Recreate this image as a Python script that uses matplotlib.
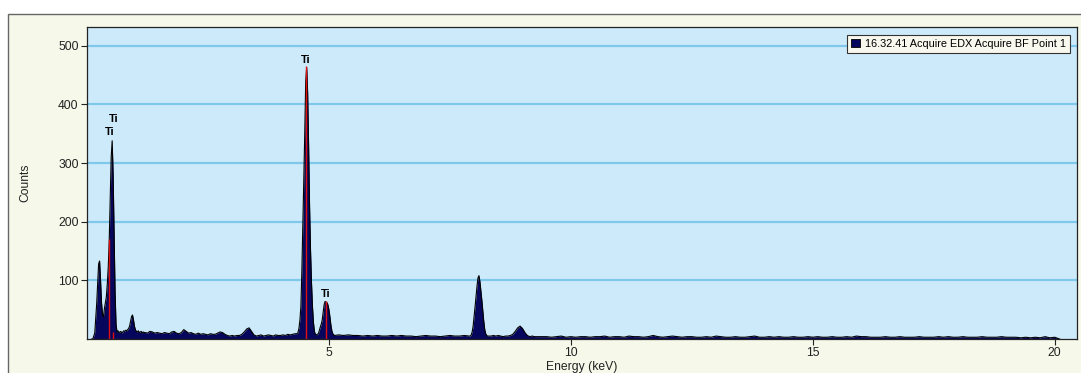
import numpy as np
import matplotlib.pyplot as plt
from matplotlib.patches import Rectangle

# ------------------------------------------------------------
# EDX spectrum (counts per channel)
# each segment: start energy (keV), channel step (keV), counts
# ------------------------------------------------------------
seg_low_start, seg_low_step = 0.10, 0.02
seg_low_counts = [
    0, 0, 5, 10, 35, 60, 95, 128, 133, 100,
    62, 42, 38, 52, 62, 72, 95, 124, 170, 240,
    310, 338, 280, 180, 80, 25, 12, 14, 11, 12,
    13, 10, 12, 14, 13, 15, 14, 16, 18, 22,
    30, 38, 41, 33, 22, 16, 13, 12, 14, 11,
    12, 13, 10, 12, 11,
]

seg_bg_start, seg_bg_step = 1.20, 0.05
seg_bg_counts = [
    11, 10, 13, 12, 10, 11, 10, 9, 11, 10,
    9, 12, 13, 10, 9, 11, 16, 13, 10, 11,
    9, 8, 10, 8, 9, 8, 7, 9, 8, 8,
    10, 12, 11, 8, 6, 5, 6, 5, 6, 6,
    8, 12, 17, 19, 13, 7, 5, 6, 7, 5,
    6, 7, 6, 5, 7, 6, 6, 7, 6, 8,
    7, 8, 9,
]

seg_tik_start, seg_tik_step = 4.34, 0.02
seg_tik_counts = [
    9, 11, 18, 32, 55, 115, 190, 270, 350, 440,
    463, 420, 330, 225, 150, 95, 55, 28, 13, 8,
    7, 8, 9, 14, 20, 25, 32, 45, 58, 64,
    63, 62, 58, 50, 38, 24, 14, 9, 7, 6,
]

seg_mid_start, seg_mid_step = 5.20, 0.10
seg_mid_counts = [
    7, 6, 7, 6, 6, 5, 6, 5, 6, 5,
    5, 6, 5, 6, 5, 5, 4, 5, 6, 5,
    5, 4, 5, 6, 5, 5, 6,
]

seg_cuka_start, seg_cuka_step = 7.90, 0.02
seg_cuka_counts = [
    5, 5, 7, 12, 22, 38, 55, 72, 90, 104,
    108, 98, 82, 66, 48, 30, 16, 9, 6, 5,
    5,
]

seg_cukb_start, seg_cukb_step = 8.35, 0.05
seg_cukb_counts = [
    5, 6, 5, 6, 5, 4, 5, 5, 6, 8,
    13, 19, 22, 18, 11, 6, 4, 5, 4, 4,
]

seg_high_start, seg_high_step = 9.40, 0.10
seg_high_counts = [
    4, 4, 3, 4, 5, 3, 4, 3, 4, 4,
    3, 4, 4, 5, 3, 4, 4, 3, 5, 4,
    4, 3, 4, 6, 4, 3, 4, 5, 4, 3,
    4, 4, 3, 3, 4, 3, 5, 4, 3, 3,
    4, 3, 3, 4, 5, 3, 3, 4, 3, 4,
    3, 3, 4, 3, 3, 4, 3, 4, 3, 3,
    4, 3, 3, 4, 3, 5, 4, 4, 3, 3,
    3, 4, 3, 3, 4, 3, 3, 3, 4, 3,
    3, 3, 4, 3, 4, 3, 3, 4, 3, 3,
    3, 4, 3, 3, 3, 4, 3, 3, 3, 2,
    3, 2, 3, 2, 4, 2, 3, 0,
]

# element marker lines (KLM) and their labels
line_labels = ["Ti", "Ti", "Ti", "Ti"]
line_energy = [0.45, 0.53, 4.52, 4.93]
line_height = [170, 12, 465, 64]
label_energy = [0.467, 0.55, 4.52, 4.93]
label_count = [345, 366, 468, 69]

legend_label = "16.32.41 Acquire EDX Acquire BF Point 1"

# ------------------------------------------------------------
segments = [
    (seg_low_start, seg_low_step, seg_low_counts),
    (seg_bg_start, seg_bg_step, seg_bg_counts),
    (seg_tik_start, seg_tik_step, seg_tik_counts),
    (seg_mid_start, seg_mid_step, seg_mid_counts),
    (seg_cuka_start, seg_cuka_step, seg_cuka_counts),
    (seg_cukb_start, seg_cukb_step, seg_cukb_counts),
    (seg_high_start, seg_high_step, seg_high_counts),
]
energy = np.concatenate([s + st * np.arange(len(c)) for s, st, c in segments])
counts = np.concatenate([np.asarray(c, float) for _, _, c in segments])

plt.rcParams["font.family"] = ["Liberation Sans", "DejaVu Sans"]

W, H = 1081, 373
fig = plt.figure(figsize=(W / 100, H / 100), dpi=100, facecolor="white")

# beige panel behind the chart
fig.patches.append(Rectangle((8 / W, -0.1), 1.2, 1.1 - 14 / H,
                             transform=fig.transFigure, facecolor="#F6F8EA",
                             edgecolor="#666666", linewidth=1.0, zorder=-5))

ax = fig.add_axes([87 / W, 1 - 339 / H, (1077 - 87) / W, (339 - 27) / H])
ax.set_zorder(2)
ax.set_facecolor("#CDEAFA")

ax.fill_between(energy, counts, 0, color="#06065C", linewidth=0, zorder=2,
                label=legend_label)
ax.plot(energy, counts, color="black", linewidth=0.8, zorder=3)
ax.vlines(line_energy, 0, line_height, color="#E01010", linewidth=1.0, zorder=4)

for lab, ex, cy in zip(line_labels, label_energy, label_count):
    ax.text(ex, cy, lab, ha="center", va="bottom", fontsize=8,
            fontweight="bold", color="black", zorder=5)

ax.set_xlim(0, 20.46)
ax.set_ylim(0, 532)
ax.set_xticks([5, 10, 15, 20])
ax.set_yticks([100, 200, 300, 400, 500])
ax.yaxis.grid(True, color="#7EC8EC", linewidth=1.6, zorder=1)
ax.set_axisbelow(True)
ax.tick_params(axis="both", direction="out", length=4, width=0.8,
               labelsize=8.7, colors="#222222", pad=2)

for sp in ax.spines.values():
    sp.set_color("#222222")
    sp.set_linewidth(0.9)

ax.set_xlabel("Energy (keV)", fontsize=8.7, color="#222222", labelpad=1)
ax.set_ylabel("Counts", fontsize=8.7, color="#222222", labelpad=19)

leg = ax.legend(loc="upper right", bbox_to_anchor=(0.993, 0.974),
                borderaxespad=0, fontsize=7.8, fancybox=False, framealpha=1,
                facecolor="#F8F8EE", edgecolor="#333333", handlelength=0.8,
                handleheight=0.8, handletextpad=0.5, borderpad=0.35)
leg.get_frame().set_linewidth(0.8)
for h in leg.legend_handles:
    h.set_edgecolor("black")
    h.set_linewidth(0.6)

fig.savefig("out.png", dpi=100, facecolor=fig.get_facecolor())
